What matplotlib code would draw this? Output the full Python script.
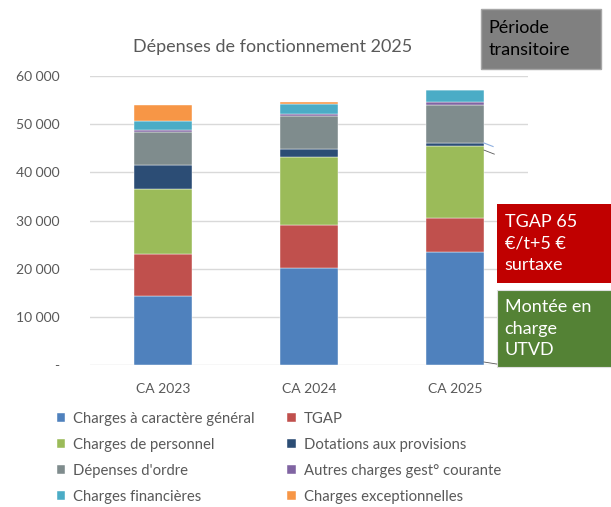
import numpy as np
import matplotlib.pyplot as plt
from matplotlib.patches import Rectangle
from matplotlib.ticker import FuncFormatter

# Données
annees = ['CA 2023', 'CA 2024', 'CA 2025']
series = ['Charges à caractère général', 'TGAP', 'Charges de personnel',
          'Dotations aux provisions', "Dépenses d'ordre",
          'Autres charges gest° courante', 'Charges financières',
          'Charges exceptionnelles']
charges_generales = [14300, 20200, 23500]
tgap = [8850, 8950, 7000]
personnel = [13300, 13950, 14900]
dotations = [5050, 1800, 800]
ordre = [6850, 6750, 7800]
autres = [400, 550, 600]
financieres = [2000, 2050, 2600]
exceptionnelles = [3200, 300, 0]
couleurs = ['#4F81BD', '#C0504D', '#9BBB59', '#2C4D75',
            '#7F8C8D', '#8064A2', '#4BACC6', '#F79646']

valeurs = [charges_generales, tgap, personnel, dotations, ordre,
           autres, financieres, exceptionnelles]

plt.rcParams['font.family'] = ['Lato', 'DejaVu Sans']
fig = plt.figure(figsize=(6.11, 5.07), dpi=100)
ax = fig.add_axes([0.147, 0.280, 0.717, 0.570])

x = np.arange(len(annees))
bas = np.zeros(len(annees))
for nom, v, c in zip(series, valeurs, couleurs):
    ax.bar(x, v, 0.4, bottom=bas, color=c, label=nom,
           edgecolor='white', linewidth=0.3, zorder=3)
    bas += np.array(v)

ax.set_xlim(-0.5, 2.5)
ax.set_ylim(0, 60000)
ax.set_yticks(np.arange(0, 60001, 10000))
ax.yaxis.set_major_formatter(FuncFormatter(
    lambda v, p: '-' if v == 0 else f'{int(v):,}'.replace(',', ' ')))
ax.set_xticks(x)
ax.set_xticklabels(annees)
ax.tick_params(length=0, labelsize=10, labelcolor='#595959')
ax.tick_params(axis='y', pad=22)
ax.tick_params(axis='x', pad=13)
ax.grid(True, axis='y', color='#D9D9D9', linewidth=1, zorder=0)
for s in ax.spines.values():
    s.set_visible(False)
fig.text(0.447, 0.907, 'Dépenses de fonctionnement 2025', fontsize=13,
         color='#595959', ha='center', va='center')

# Légende sur deux colonnes, remplie ligne par ligne
h, l = ax.get_legend_handles_labels()
ordre_leg = [0, 2, 4, 6, 1, 3, 5, 7]
fig.legend([h[i] for i in ordre_leg], [l[i] for i in ordre_leg], ncol=2,
           loc='upper left', bbox_to_anchor=(0.093, 0.187),
           borderaxespad=0, borderpad=0, frameon=False, fontsize=10.7,
           handlelength=0.55, handleheight=0.55, handletextpad=0.55,
           columnspacing=2.2, labelspacing=0.8, labelcolor='#595959')

# Encadrés
fig.add_artist(Rectangle((0.787, 0.864), 0.196, 0.118, transform=fig.transFigure,
                         fc='#808080', ec='#A6A6A6', lw=1))
fig.text(0.800, 0.923, 'Période\ntransitoire', fontsize=13, color='black',
         va='center', ha='left', linespacing=1.4)
fig.add_artist(Rectangle((0.813, 0.442), 0.19, 0.156, transform=fig.transFigure,
                         fc='#C00000', ec='#C00000', lw=0))
fig.text(0.826, 0.520, 'TGAP 65\n€/t+5 €\nsurtaxe', fontsize=13,
         color='white', va='center', ha='left', linespacing=1.4)
fig.add_artist(Rectangle((0.813, 0.276), 0.19, 0.152, transform=fig.transFigure,
                         fc='#548235', ec='#E0E0E0', lw=0.8))
fig.text(0.826, 0.352, 'Montée en\ncharge\nUTVD', fontsize=13,
         color='white', va='center', ha='left', linespacing=1.4)

# Traits de liaison
fig.add_artist(plt.Line2D([0.792, 0.807], [0.718, 0.711], color='#8FB0E0', lw=0.8))
fig.add_artist(plt.Line2D([0.792, 0.809], [0.704, 0.696], color='#595959', lw=0.6))
fig.add_artist(plt.Line2D([0.792, 0.813], [0.286, 0.282], color='#595959', lw=0.6))

fig.savefig('out.png', dpi=100)
